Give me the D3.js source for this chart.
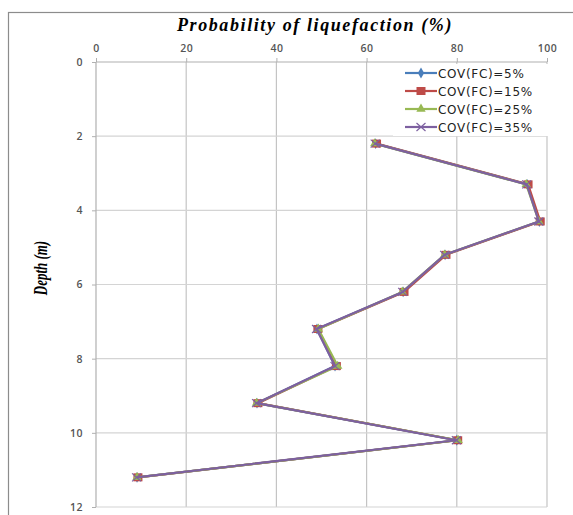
<!DOCTYPE html>
<html>
<head>
<meta charset="utf-8">
<script src="https://cdn.jsdelivr.net/npm/d3@7"></script>
<style>
body { margin: 0; background: #fff; }
</style>
</head>
<body>
<script>
const w = 573;
const h = 515;

const depths = [2.2, 3.3, 4.3, 5.2, 6.2, 7.2, 8.2, 9.2, 10.2, 11.2];
const cov5 = [62, 95.6, 98.3, 77.4, 68.1, 49, 53, 35.7, 80, 9.1];
const cov15 = [62.2, 95.8, 98.5, 77.6, 68.3, 49.2, 53.3, 35.9, 80.2, 9.3];
const cov25 = [61.8, 95.4, 98.2, 77.3, 67.9, 49.3, 53.6, 35.6, 80.3, 9.1];
const cov35 = [61.9, 95.5, 98.2, 77.3, 68.0, 48.9, 53.0, 35.6, 79.9, 9.0];
const seriesNames = ["COV(FC)=5%", "COV(FC)=15%", "COV(FC)=25%", "COV(FC)=35%"];
const xTicks = [0, 20, 40, 60, 80, 100];
const yTicks = [0, 2, 4, 6, 8, 10, 12];

const colors = ["#4a7ebb", "#be4b48", "#98b954", "#7d60a0"];
const shapes = ["diamond", "square", "triangle", "cross"];
const allSeries = [cov5, cov15, cov25, cov35];

const padLeft = 96, padRight = 547, padTop = 62, padBottom = 507;

const xScale = d3.scaleLinear().domain([0, 100]).range([padLeft, padRight]);
const yScale = d3.scaleLinear().domain([0, 12]).range([padTop, padBottom]);

const svg = d3.select("body").append("svg")
	.attr("width", w)
	.attr("height", h)
	.style("font-family", "'Open Sans', 'Liberation Sans', sans-serif");

// outer frame
svg.append("rect")
	.attr("x", 8.5).attr("y", 12.5)
	.attr("width", 570).attr("height", 520)
	.attr("fill", "#fff")
	.attr("stroke", "#8c8c8c")
	.attr("stroke-width", 1.2);

// gridlines
svg.append("g").selectAll("line")
	.data(xTicks.slice(1))
	.enter().append("line")
	.attr("x1", d => xScale(d)).attr("x2", d => xScale(d))
	.attr("y1", padTop).attr("y2", padBottom)
	.attr("stroke", "#c4c4c4").attr("stroke-width", 1.2);

svg.append("g").selectAll("line")
	.data(yTicks.slice(1))
	.enter().append("line")
	.attr("x1", padLeft).attr("x2", padRight)
	.attr("y1", d => yScale(d)).attr("y2", d => yScale(d))
	.attr("stroke", "#d4d4d4").attr("stroke-width", 1.2);

// axes
const xAxis = d3.axisTop(xScale).tickValues(xTicks).tickSize(4).tickPadding(6);
const yAxis = d3.axisLeft(yScale).tickValues(yTicks).tickSize(4).tickPadding(9);

const gx = svg.append("g")
	.attr("transform", "translate(0," + padTop + ")")
	.call(xAxis);
const gy = svg.append("g")
	.attr("transform", "translate(" + padLeft + ",0)")
	.call(yAxis);

[gx, gy].forEach(g => {
	g.select(".domain").attr("stroke", "#b0b0b0").attr("stroke-width", 1.2);
	g.selectAll(".tick line").attr("stroke", "#b0b0b0");
	g.selectAll(".tick text")
		.attr("fill", "#555")
		.style("font-size", "10.5px")
		.style("font-weight", "600")
		.style("letter-spacing", "0.5px")
		.style("font-family", "'Open Sans', 'Liberation Sans', sans-serif");
});
gx.select(".domain").attr("d", "M" + padLeft + ",0H" + padRight);
gy.select(".domain").attr("d", "M0," + padTop + "V" + padBottom);

// titles
svg.append("text")
	.attr("x", 315).attr("y", 31)
	.attr("text-anchor", "middle")
	.style("font-family", "'Liberation Serif', 'DejaVu Serif', serif")
	.style("font-weight", "bold")
	.style("font-style", "italic")
	.style("font-size", "18px")
	.style("letter-spacing", "1.6px")
	.text("Probability of liquefaction (%)");

svg.append("text")
	.attr("transform", "translate(47,268) rotate(-90) scale(0.72,1)")
	.attr("text-anchor", "middle")
	.style("font-family", "'Liberation Serif', 'DejaVu Serif', serif")
	.style("font-weight", "bold")
	.style("font-style", "italic")
	.style("font-size", "18px")
	.text("Depth (m)");

// markers
function marker(g, shape, color) {
	if (shape === "diamond") {
		g.append("path").attr("d", d3.symbol(d3.symbolDiamond, 34)).attr("fill", color);
	} else if (shape === "square") {
		g.append("rect").attr("x", -4.5).attr("y", -4).attr("width", 9).attr("height", 8).attr("fill", color);
	} else if (shape === "triangle") {
		g.append("path").attr("d", d3.symbol(d3.symbolTriangle, 38)).attr("fill", color);
	} else {
		g.append("path").attr("d", "M-4.5,-4L4.5,4M-4.5,4L4.5,-4").attr("stroke", color).attr("stroke-width", 1.2).attr("fill", "none");
	}
}

const line = d3.line()
	.x(d => xScale(d[0]))
	.y(d => yScale(d[1]));

allSeries.forEach((vals, i) => {
	const pts = vals.map((v, j) => [v, depths[j]]);
	svg.append("path")
		.datum(pts)
		.attr("d", line)
		.attr("fill", "none")
		.attr("stroke", colors[i])
		.attr("stroke-width", 2.2)
		.attr("stroke-linejoin", "round");
	pts.forEach(p => {
		const g = svg.append("g").attr("transform", "translate(" + xScale(p[0]) + "," + yScale(p[1]) + ")");
		marker(g, shapes[i], colors[i]);
	});
});

// legend
const legend = svg.append("g");
legend.append("rect")
	.attr("x", 393).attr("y", 64)
	.attr("width", 175).attr("height", 72)
	.attr("fill", "#fff");
seriesNames.forEach((name, i) => {
	const yy = 73 + i * 18;
	legend.append("line")
		.attr("x1", 405).attr("x2", 437)
		.attr("y1", yy).attr("y2", yy)
		.attr("stroke", colors[i]).attr("stroke-width", 2.2);
	const g = legend.append("g").attr("transform", "translate(421," + yy + ")");
	marker(g, shapes[i], colors[i]);
	legend.append("text")
		.attr("x", 438).attr("y", yy + 4.5)
		.style("font-family", "'DejaVu Sans', Verdana, sans-serif")
		.style("font-size", "12px")
		.style("letter-spacing", "0.7px")
		.attr("fill", "#222")
		.text(name);
});
</script>
</body>
</html>
